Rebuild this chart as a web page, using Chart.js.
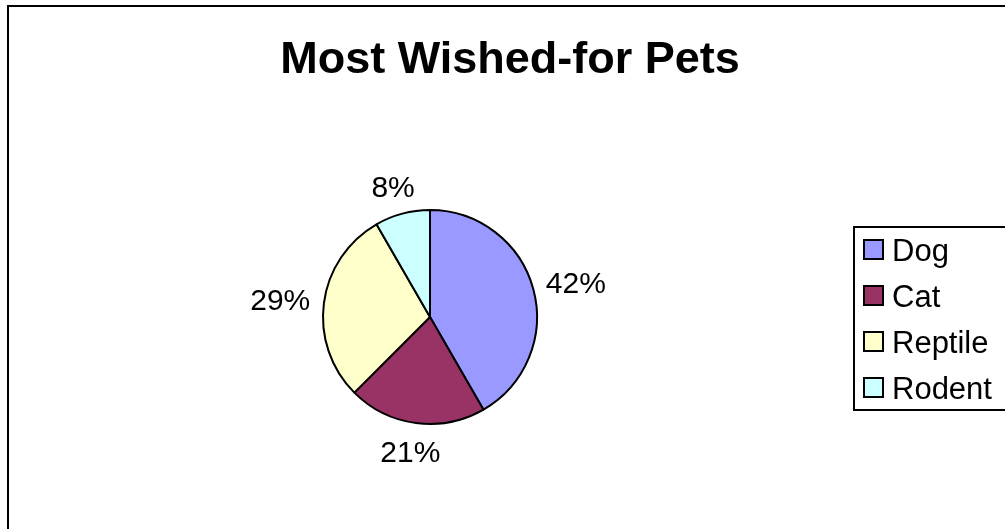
<!DOCTYPE html>
<html>
<head>
<meta charset="utf-8">
<title>Most Wished-for Pets</title>
<script src="https://cdn.jsdelivr.net/npm/chart.js@4.4.0/dist/chart.umd.min.js"></script>
<style>
	html, body { margin: 0; padding: 0; background: #fff; overflow: hidden; }
	#wrap { position: relative; width: 1005px; height: 529px; }
</style>
</head>
<body>
<div id="wrap"><canvas id="pets-chart" width="1005" height="529"></canvas></div>
<script>
// Chart data
var petLabels = ['Dog', 'Cat', 'Reptile', 'Rodent'];
var petVotes  = [10, 5, 7, 2];
var petColors = ['#9999FF', '#993366', '#FFFFCC', '#CCFFFF'];
var chartTitle = 'Most Wished-for Pets';

var fontFamily = '"Liberation Sans", Arial, sans-serif';

// Draws frame, title, outside percent labels and the boxed legend
var excelLook = {
	id: 'excelLook',
	beforeDraw: function( chart ){
		var ctx = chart.ctx;
		ctx.save();
		ctx.strokeStyle = '#000';
		ctx.lineWidth   = 2;
		ctx.strokeRect( 8, 6, 1100, 600 );
		ctx.restore();
	},
	afterDraw: function( chart ){
		var ctx  = chart.ctx,
		meta     = chart.getDatasetMeta( 0 ),
		values   = chart.data.datasets[0].data,
		total    = 0;

		values.forEach(function( v ){ total += v; });

		ctx.save();
		// Title
		ctx.fillStyle    = '#000';
		ctx.textAlign    = 'center';
		ctx.textBaseline = 'alphabetic';
		ctx.font         = 'bold 45px ' + fontFamily;
		ctx.fillText( chartTitle, 510, 73 );

		// Percent labels outside each slice
		var size = 30;
		ctx.font = size + 'px ' + fontFamily;
		meta.data.forEach(function( arc, i ){
			var p   = arc.getProps( ['x', 'y', 'startAngle', 'endAngle', 'outerRadius'], true ),
			mid     = ( p.startAngle + p.endAngle ) / 2,
			ux      = Math.cos( mid ),
			uy      = Math.sin( mid ),
			text    = Math.round( values[i] / total * 100 ) + '%',
			halfW   = ctx.measureText( text ).width / 2,
			gap     = p.outerRadius + 14,
			cx      = p.x + ux * ( gap + halfW ),
			cy      = p.y + uy * gap + uy * 14;
			ctx.fillText( text, cx, cy + size * 0.358 );
		});

		// Legend box
		var legendSize = 31;
		ctx.font        = legendSize + 'px ' + fontFamily;
		ctx.lineWidth   = 2;
		ctx.strokeStyle = '#000';
		ctx.strokeRect( 854, 227, 200, 183 );
		ctx.textAlign = 'left';
		chart.data.labels.forEach(function( label, i ){
			var cy = 250 + i * 46;
			ctx.fillStyle = chart.data.datasets[0].backgroundColor[i];
			ctx.fillRect( 864, cy - 10, 19, 19 );
			ctx.strokeRect( 864, cy - 10, 19, 19 );
			ctx.fillStyle = '#000';
			ctx.fillText( label, 892, cy + legendSize * 0.358 );
		});
		ctx.restore();
	}
};

var petChart = new Chart( document.getElementById( 'pets-chart' ).getContext( '2d' ), {
	type: 'pie',
	data: {
		labels: petLabels,
		datasets: [{
			data           : petVotes,
			backgroundColor: petColors,
			borderColor    : '#000',
			borderWidth    : 2,
			hoverOffset    : 0
		}]
	},
	options: {
		responsive : false,
		animation  : false,
		radius     : 107,
		layout     : {
			padding: { left: 0, right: 145, top: 105, bottom: 0 }
		},
		events     : [],
		plugins    : {
			title  : { display: false },
			legend : { display: false },
			tooltip: { enabled: false }
		}
	},
	plugins: [ excelLook ]
});
</script>
</body>
</html>
